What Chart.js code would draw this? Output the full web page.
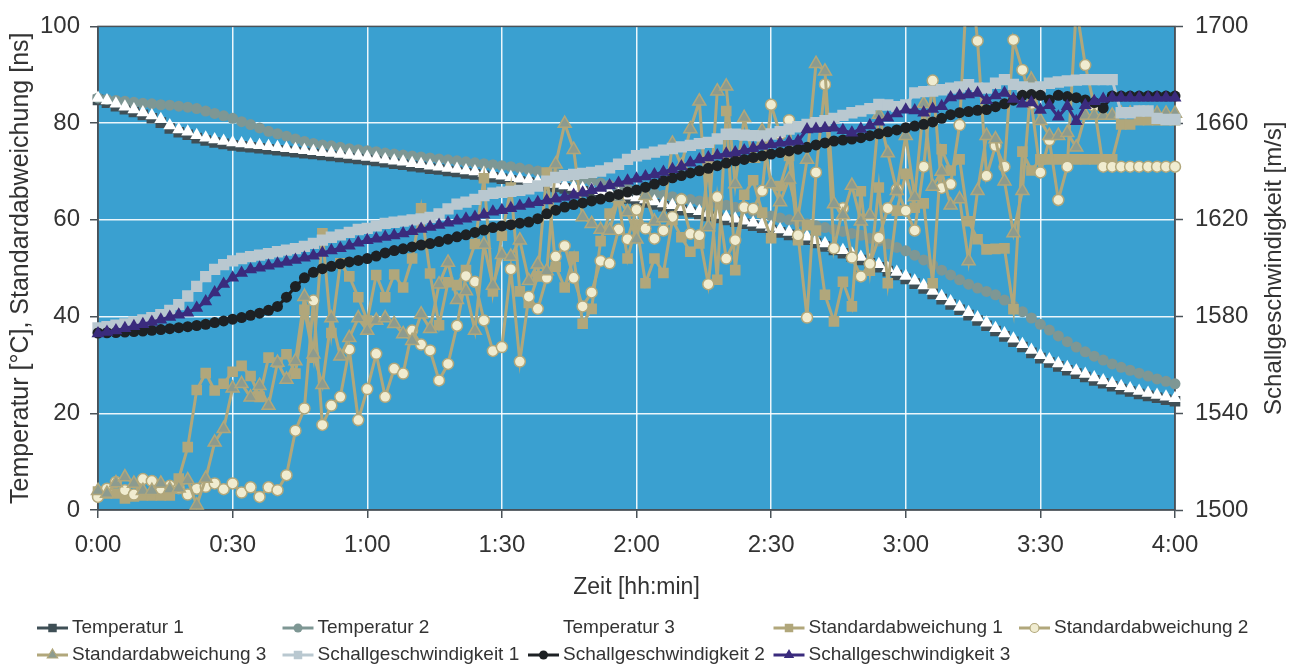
<!DOCTYPE html>
<html>
<head>
<meta charset="utf-8">
<title>Temperatur und Schallgeschwindigkeit</title>
<script src="https://cdn.jsdelivr.net/npm/chart.js@4.4.1/dist/chart.umd.min.js"></script>
<style>
  html, body { margin: 0; padding: 0; background: #fff; }
  #wrap { width: 1298px; height: 666px; }
</style>
</head>
<body>
<div id="wrap"><canvas id="mycanvas" width="1298" height="666"></canvas></div>
<script>
// sample times in minutes (one reading every 2 minutes, 0:00 .. 4:00)
var minutes = [];
for (var m = 0; m <= 240; m += 2) minutes.push(m);

var xTickLabels = ['0:00', '0:30', '1:00', '1:30', '2:00', '2:30', '3:00', '3:30', '4:00'];

// left axis: Temperatur [°C]
var temperatur1 = [
  84.8, 84.2, 83.5, 82.9, 82.3, 81.7, 81.0, 80.1, 78.9, 78.1,
  77.6, 76.9, 76.4, 76.0, 75.7, 75.4, 75.2, 75.0, 74.8, 74.6,
  74.4, 74.2, 74.0, 73.8, 73.6, 73.4, 73.2, 73.0, 72.8, 72.6,
  72.4, 72.2, 71.9, 71.6, 71.4, 71.1, 70.9, 70.6, 70.4, 70.1,
  69.9, 69.6, 69.4, 69.1, 68.8, 68.5, 68.2, 67.9, 67.7, 67.4,
  67.1, 66.8, 66.5, 66.2, 65.9, 65.6, 65.3, 65.0, 64.7, 64.4,
  64.0, 63.6, 63.2, 62.8, 62.4, 62.0, 61.6, 61.2, 60.8, 60.4,
  60.0, 59.6, 59.2, 58.8, 58.4, 57.9, 57.4, 56.9, 56.4, 55.9,
  55.2, 54.5, 53.8, 53.1, 52.4, 51.7, 51.0, 50.2, 49.4, 48.6,
  47.8, 46.8, 45.8, 44.7, 43.6, 42.5, 41.4, 40.3, 39.2, 38.1,
  37.0, 35.9, 34.8, 33.7, 32.5, 31.4, 30.5, 29.7, 28.9, 28.2,
  27.5, 26.8, 26.2, 25.6, 25.0, 24.5, 24.0, 23.6, 23.2, 22.8,
  22.5
];
var temperatur2 = [
  85.2, 84.9, 84.7, 84.5, 84.3, 84.1, 84.0, 83.8, 83.7, 83.5,
  83.3, 83.0, 82.5, 82.0, 81.5, 81.0, 80.3, 79.7, 79.0, 78.3,
  77.8, 77.3, 76.7, 76.2, 75.8, 75.5, 75.3, 75.0, 74.7, 74.5,
  74.3, 74.1, 73.8, 73.6, 73.4, 73.2, 73.0, 72.8, 72.6, 72.4,
  72.2, 72.0, 71.8, 71.6, 71.4, 71.2, 71.0, 70.7, 70.4, 70.1,
  69.8, 69.5, 69.2, 68.8, 68.4, 68.0, 67.6, 67.2, 66.8, 66.4,
  66.0, 65.7, 65.4, 65.1, 64.8, 64.5, 64.2, 63.9, 63.6, 63.3,
  63.0, 62.6, 62.2, 61.7, 61.2, 60.8, 60.4, 60.0, 59.6, 59.2,
  58.8, 58.4, 58.0, 57.6, 57.2, 56.8, 56.2, 55.6, 55.0, 54.3,
  53.6, 52.7, 51.7, 50.7, 49.6, 48.6, 47.6, 46.7, 45.9, 45.2,
  44.5, 43.4, 42.2, 41.0, 39.7, 38.4, 37.2, 36.0, 34.8, 33.7,
  32.7, 31.8, 31.0, 30.2, 29.5, 28.9, 28.3, 27.7, 27.1, 26.6,
  26.1
];
var temperatur3 = [
  85.2, 84.7, 84.0, 83.4, 82.8, 82.2, 81.6, 80.8, 79.5, 78.7,
  78.2, 77.5, 77.0, 76.6, 76.3, 76.0, 75.8, 75.6, 75.4, 75.2,
  75.0, 74.8, 74.6, 74.4, 74.2, 74.0, 73.8, 73.6, 73.4, 73.2,
  73.0, 72.8, 72.5, 72.2, 72.0, 71.7, 71.5, 71.2, 71.0, 70.7,
  70.5, 70.2, 70.0, 69.7, 69.4, 69.1, 68.8, 68.5, 68.3, 68.0,
  67.7, 67.4, 67.1, 66.8, 66.5, 66.2, 65.9, 65.6, 65.3, 65.0,
  64.6, 64.2, 63.8, 63.4, 63.0, 62.6, 62.2, 61.8, 61.4, 61.0,
  60.6, 60.2, 59.8, 59.4, 59.0, 58.5, 58.0, 57.5, 57.0, 56.5,
  55.8, 55.1, 54.4, 53.7, 53.0, 52.3, 51.6, 50.8, 50.0, 49.2,
  48.4, 47.4, 46.4, 45.3, 44.2, 43.1, 42.0, 40.9, 39.8, 38.7,
  37.6, 36.5, 35.4, 34.3, 33.1, 32.0, 31.1, 30.3, 29.5, 28.8,
  28.1, 27.4, 26.8, 26.2, 25.6, 25.1, 24.6, 24.2, 23.8, 23.4,
  23.1
];

// left axis: Standardabweichung [ns]
var standardabweichung1 = [
  3.8, 3.4, 3.4, 2.4, 2.8, 3.0, 3.0, 3.0, 3.0, 6.5,
  13.0, 24.8, 28.3, 24.7, 26.1, 28.6, 29.8, 27.7, 23.4, 31.5,
  30.5, 32.2, 28.2, 41.4, 31.5, 57.2, 36.6, 51.0, 48.3, 44.0,
  39.2, 48.6, 44.0, 48.7, 46.0, 52.0, 62.4, 48.9, 38.2, 47.1,
  46.5, 49.6, 55.0, 68.6, 45.2, 56.7, 66.7, 45.2, 42.8, 48.3,
  69.8, 50.3, 46.0, 52.4, 38.5, 41.6, 55.6, 61.3, 64.0, 52.0,
  59.0, 46.9, 52.0, 49.0, 60.0, 56.4, 53.4, 55.1, 71.2, 47.6,
  82.5, 49.6, 65.2, 68.2, 61.5, 56.2, 67.0, 73.2, 55.8, 58.9,
  57.8, 44.5, 39.0, 47.2, 42.1, 65.9, 49.5, 66.7, 46.9, 61.9,
  69.5, 62.5, 63.4, 46.9, 74.6, 70.2, 72.5, 59.7, 56.0, 53.9,
  54.0, 54.1, 41.5, 74.1, 70.2, 72.5, 72.5, 72.5, 72.5, 72.5,
  72.5, 72.5, 72.5, 72.5, 79.7, 79.7, 80.6, 80.6, 80.6, 80.6,
  80.6
];
var standardabweichung2 = [
  2.7, 4.4, 5.8, 4.1, 3.2, 6.4, 6.0, 4.4, 5.0, 4.5,
  3.2, 4.4, 4.8, 5.5, 4.3, 5.5, 3.6, 4.7, 2.7, 4.7,
  4.1, 7.2, 16.4, 21.0, 43.3, 17.6, 21.6, 23.4, 33.2, 18.6,
  25.0, 32.3, 23.4, 29.2, 28.2, 37.1, 34.2, 33.0, 26.8, 30.2,
  38.1, 48.4, 47.2, 39.2, 32.9, 33.7, 49.8, 30.7, 44.1, 41.6,
  48.0, 52.4, 54.6, 48.0, 42.1, 45.0, 51.5, 51.0, 58.0, 56.0,
  62.1, 58.2, 56.1, 57.8, 60.6, 64.2, 57.1, 56.8, 46.7, 64.7,
  52.0, 55.8, 62.6, 62.3, 66.0, 83.8, 77.7, 80.6, 56.8, 39.8,
  69.8, 88.0, 54.1, 62.4, 52.2, 48.3, 50.9, 56.3, 62.4, 66.3,
  61.9, 57.8, 71.0, 88.8, 66.6, 67.4, 79.6, 115.0, 97.0, 69.1,
  75.3, 71.0, 97.2, 91.0, 84.0, 69.8, 76.5, 64.1, 71.0, 104.0,
  92.0, 83.5, 71.0, 71.0, 71.0, 71.0, 71.0, 71.0, 71.0, 71.0,
  71.0
];
var standardabweichung3 = [
  4.0, 3.4, 5.6, 6.8, 5.5, 4.0, 4.0, 5.5, 4.3, 4.5,
  6.2, 1.0, 6.5, 14.0, 16.8, 25.2, 26.1, 23.3, 25.7, 21.6,
  30.5, 27.0, 30.8, 44.1, 32.2, 25.9, 39.7, 31.8, 35.6, 39.7,
  37.1, 39.2, 39.7, 38.5, 36.4, 35.0, 40.5, 37.5, 46.7, 51.2,
  43.5, 45.3, 37.1, 54.9, 46.4, 52.8, 52.4, 55.8, 47.4, 50.8,
  49.4, 71.5, 79.9, 74.5, 60.6, 59.2, 58.0, 57.8, 64.5, 61.6,
  56.0, 65.0, 59.7, 60.4, 75.8, 71.2, 78.8, 84.5, 58.5, 86.6,
  87.6, 67.4, 81.1, 72.7, 78.4, 67.4, 63.7, 68.4, 60.6, 72.5,
  92.3, 90.7, 63.3, 61.0, 67.1, 59.7, 61.0, 81.8, 73.8, 66.0,
  77.4, 64.7, 84.0, 66.9, 70.0, 63.0, 64.3, 51.5, 66.0, 77.4,
  76.7, 68.0, 57.3, 66.0, 89.0, 80.5, 77.4, 77.4, 78.0, 75.0,
  81.6, 81.6, 81.6, 81.6, 82.0, 82.0, 82.0, 82.0, 82.0, 82.0,
  82.0
];

// right axis: Schallgeschwindigkeit [m/s]
var schall1 = [
  1575.3, 1575.8, 1576.4, 1577.0, 1577.8, 1578.6, 1579.5, 1580.8, 1582.5, 1584.9,
  1588.5, 1592.5, 1596.5, 1599.5, 1601.5, 1603.0, 1604.0, 1604.8, 1605.4, 1606.0,
  1606.8, 1607.5, 1608.1, 1609.0, 1610.3, 1611.6, 1612.8, 1613.8, 1614.8, 1616.0,
  1616.5, 1617.5, 1618.5, 1619.0, 1619.5, 1620.0, 1620.4, 1621.0, 1622.5, 1624.5,
  1626.5, 1627.3, 1628.5, 1630.0, 1631.0, 1631.4, 1631.8, 1632.2, 1632.8, 1634.0,
  1636.0, 1637.5, 1638.3, 1638.8, 1639.2, 1639.6, 1640.2, 1641.5, 1643.0, 1645.0,
  1646.5, 1647.2, 1648.0, 1648.8, 1649.5, 1650.2, 1650.8, 1651.5, 1652.0, 1653.5,
  1655.4, 1655.4, 1655.0, 1654.8, 1654.7, 1655.5, 1656.5, 1657.5, 1658.5, 1659.5,
  1660.2, 1661.0, 1662.0, 1663.2, 1664.3, 1665.0, 1666.0, 1667.7, 1667.5, 1666.8,
  1667.5, 1672.5, 1673.0, 1673.2, 1673.8, 1674.5, 1675.0, 1675.9, 1674.5, 1674.5,
  1676.5, 1678.0, 1676.0, 1675.0, 1674.5, 1675.0, 1676.5, 1677.0, 1677.5, 1677.8,
  1678.0, 1678.0, 1678.0, 1678.0, 1664.3, 1664.3, 1665.0, 1665.0, 1662.0, 1661.5,
  1661.5
];
var schall2 = [
  1573.2, 1573.3, 1573.4, 1573.6, 1573.8, 1574.0, 1574.3, 1574.6, 1575.0, 1575.4,
  1575.8, 1576.3, 1576.8, 1577.5, 1578.2, 1578.9, 1579.6, 1580.5, 1581.4, 1582.6,
  1584.2, 1588.0, 1592.4, 1596.0, 1598.3, 1599.8, 1600.8, 1601.8, 1602.6, 1603.2,
  1604.0, 1605.0, 1606.3, 1607.3, 1608.0, 1608.8, 1609.6, 1610.2, 1611.0, 1612.0,
  1613.0, 1613.8, 1614.8, 1615.8, 1616.8, 1617.5, 1618.0, 1618.6, 1619.1, 1620.5,
  1622.5, 1624.0, 1625.3, 1626.3, 1627.0, 1627.8, 1628.6, 1629.5, 1630.5, 1631.5,
  1632.3, 1633.5, 1634.8, 1636.2, 1637.4, 1638.3, 1639.4, 1640.3, 1641.3, 1642.4,
  1643.5, 1644.4, 1645.0, 1645.8, 1646.5, 1647.2, 1647.8, 1648.5, 1649.2, 1650.0,
  1651.0, 1651.8, 1652.6, 1653.0, 1653.4, 1654.0, 1654.8, 1655.6, 1656.4, 1657.2,
  1658.1, 1658.8, 1659.5, 1660.5, 1662.0, 1663.5, 1664.3, 1664.8, 1665.3, 1665.6,
  1666.8, 1668.0, 1669.5, 1671.5, 1671.8, 1671.5, 1669.6, 1671.5, 1671.0, 1670.5,
  1669.6, 1668.5, 1666.3, 1671.2, 1671.2, 1671.2, 1671.2, 1671.2, 1671.2, 1671.2,
  1671.2
];
var schall3 = [
  1573.0, 1573.6, 1574.2, 1575.2, 1576.0, 1576.8, 1577.8, 1578.7, 1579.8, 1580.8,
  1581.6, 1583.5, 1586.2, 1590.0, 1593.5, 1596.0, 1598.0, 1599.5, 1600.2, 1601.0,
  1601.8, 1602.6, 1603.4, 1604.3, 1605.2, 1606.3, 1607.3, 1608.3, 1609.3, 1610.5,
  1611.6, 1612.2, 1612.9, 1613.5, 1614.4, 1615.3, 1616.2, 1617.0, 1617.9, 1618.8,
  1619.6, 1620.4, 1621.2, 1622.1, 1623.3, 1624.0, 1624.8, 1625.7, 1626.6, 1627.3,
  1628.0, 1628.7, 1629.4, 1630.3, 1631.2, 1632.2, 1633.2, 1634.2, 1635.2, 1636.2,
  1637.0, 1637.9, 1638.8, 1639.8, 1640.9, 1642.1, 1643.6, 1645.0, 1645.8, 1646.6,
  1647.3, 1647.9, 1648.7, 1649.6, 1650.5, 1651.2, 1651.8, 1652.2, 1652.6, 1657.4,
  1657.6, 1657.9, 1658.1, 1657.0, 1656.0, 1657.6, 1659.0, 1660.6, 1662.2, 1664.0,
  1665.5, 1665.2, 1664.3, 1665.8, 1667.0, 1670.6, 1671.3, 1671.8, 1672.5, 1669.5,
  1671.4, 1672.5, 1670.0, 1668.0, 1668.5, 1665.4, 1667.4, 1662.6, 1667.0, 1660.8,
  1667.4, 1669.0, 1670.0, 1670.5, 1670.5, 1670.5, 1670.5, 1670.5, 1670.5, 1670.5,
  1670.5
];

var FONT = "'Liberation Sans', Arial, sans-serif";
var TEXT = '#333333';
var FRAME = '#4a5258';
var TAN = '#b1a77b';
var rightTitle = 'Schallgeschwindigkeit [m/s]';

// legend grid: rows of dataset indices
var legendRows = [[0, 1, 2, 3, 4], [5, 6, 7, 8]];

function markerPath(ctx, style, x, y, r) {
  ctx.beginPath();
  if (style === 'rect') {
    var s = r * Math.SQRT1_2;
    ctx.rect(x - s, y - s, 2 * s, 2 * s);
  } else if (style === 'triangle') {
    ctx.moveTo(x, y - r);
    ctx.lineTo(x + r * 0.866, y + r * 0.5);
    ctx.lineTo(x - r * 0.866, y + r * 0.5);
    ctx.closePath();
  } else {
    ctx.arc(x, y, r, 0, Math.PI * 2);
  }
}

var plotBackground = {
  id: 'plotBackground',
  beforeDraw: function(chart) {
    var a = chart.chartArea, ctx = chart.ctx;
    ctx.save();
    ctx.fillStyle = '#3aa0d0';
    ctx.fillRect(a.left, a.top, a.right - a.left, a.bottom - a.top);
    ctx.restore();
  },
  beforeDatasetsDraw: function(chart) {
    var a = chart.chartArea, ctx = chart.ctx;
    ctx.save();
    ctx.strokeStyle = FRAME;
    ctx.lineWidth = 1.5;
    ctx.strokeRect(a.left, a.top, a.right - a.left, a.bottom - a.top);
    ctx.restore();
  },
  afterDraw: function(chart) {
    // right axis title reads bottom-to-top, like the left one
    var a = chart.chartArea, ctx = chart.ctx;
    ctx.save();
    ctx.translate(1274, (a.top + a.bottom) / 2);
    ctx.rotate(-Math.PI / 2);
    ctx.font = '24px ' + FONT;
    ctx.fillStyle = TEXT;
    ctx.textAlign = 'center';
    ctx.textBaseline = 'middle';
    ctx.fillText(rightTitle, 0, 0);
    ctx.restore();
  }
};

var gridLegend = {
  id: 'gridLegend',
  afterDraw: function(chart) {
    var ctx = chart.ctx;
    var ds = chart.data.datasets;
    ctx.save();
    ctx.font = '19px ' + FONT;
    ctx.textBaseline = 'middle';
    ctx.textAlign = 'left';
    legendRows.forEach(function(row, r) {
      var y = 628 + r * 27;
      row.forEach(function(idx, c) {
        var d = ds[idx];
        var lx = 37 + c * 245.5;
        if (d.showLine !== false) {
          ctx.strokeStyle = d.borderColor;
          ctx.lineWidth = 3;
          ctx.beginPath();
          ctx.moveTo(lx, y);
          ctx.lineTo(lx + 31, y);
          ctx.stroke();
        }
        markerPath(ctx, d.pointStyle, lx + 15.5, y, d.pointStyle === 'circle' ? 4.5 : 6);
        ctx.fillStyle = d.pointBackgroundColor;
        ctx.fill();
        if (d.pointBorderWidth) {
          ctx.lineWidth = 1.2;
          ctx.strokeStyle = d.pointBorderColor;
          ctx.stroke();
        }
        ctx.fillStyle = TEXT;
        ctx.fillText(d.label, lx + 35, y);
      });
    });
    ctx.restore();
  }
};

function edgeless(color) {
  return function(c) {
    var s = c.scale;
    if (c.tick && (c.tick.value === s.min || c.tick.value === s.max)) return 'rgba(0,0,0,0)';
    return color;
  };
}

var clipBox = { left: 10, right: 10, top: 0, bottom: 10 };

var ctx = document.getElementById('mycanvas');

var chart = new Chart(ctx, {
  type: 'line',
  data: {
    labels: minutes,
    datasets: [
      {
        label: 'Temperatur 1', data: temperatur1, yAxisID: 'y', order: 9,
        borderColor: '#3f4f56', pointBackgroundColor: '#3f4f56', pointBorderWidth: 0,
        borderWidth: 3, pointStyle: 'rect', pointRadius: 7.5, clip: clipBox
      },
      {
        label: 'Temperatur 2', data: temperatur2, yAxisID: 'y', order: 8,
        borderColor: '#7e9794', pointBackgroundColor: '#7e9794', pointBorderWidth: 0,
        borderWidth: 3, pointStyle: 'circle', pointRadius: 5.5, clip: clipBox
      },
      {
        label: 'Temperatur 3', data: temperatur3, yAxisID: 'y', order: 7,
        borderColor: '#ffffff', pointBackgroundColor: '#ffffff', pointBorderWidth: 0,
        showLine: false, pointStyle: 'triangle', pointRadius: 7.5, clip: clipBox
      },
      {
        label: 'Standardabweichung 1', data: standardabweichung1, yAxisID: 'y', order: 6,
        borderColor: TAN, pointBackgroundColor: TAN, pointBorderWidth: 0,
        borderWidth: 3, pointStyle: 'rect', pointRadius: 7.5, clip: clipBox
      },
      {
        label: 'Standardabweichung 2', data: standardabweichung2, yAxisID: 'y', order: 5,
        borderColor: TAN, pointBackgroundColor: '#f0ecd0', pointBorderColor: TAN, pointBorderWidth: 1.5,
        borderWidth: 3, pointStyle: 'circle', pointRadius: 5.5, clip: clipBox
      },
      {
        label: 'Standardabweichung 3', data: standardabweichung3, yAxisID: 'y', order: 4,
        borderColor: TAN, pointBackgroundColor: '#8c9b8f', pointBorderColor: TAN, pointBorderWidth: 1.5,
        borderWidth: 3, pointStyle: 'triangle', pointRadius: 7.5, clip: clipBox
      },
      {
        label: 'Schallgeschwindigkeit 1', data: schall1, yAxisID: 'y1', order: 3,
        borderColor: '#b9c8d0', pointBackgroundColor: '#b9c8d0', pointBorderWidth: 0,
        borderWidth: 3, pointStyle: 'rect', pointRadius: 8, clip: clipBox
      },
      {
        label: 'Schallgeschwindigkeit 2', data: schall2, yAxisID: 'y1', order: 2,
        borderColor: '#1d2124', pointBackgroundColor: '#1d2124', pointBorderWidth: 0,
        borderWidth: 3, pointStyle: 'circle', pointRadius: 5.5, clip: clipBox
      },
      {
        label: 'Schallgeschwindigkeit 3', data: schall3, yAxisID: 'y1', order: 1,
        borderColor: '#3a2b7d', pointBackgroundColor: '#3a2b7d', pointBorderWidth: 0,
        borderWidth: 3, pointStyle: 'triangle', pointRadius: 7.5, clip: clipBox
      }
    ]
  },
  options: {
    responsive: false,
    animation: false,
    events: [],
    elements: { line: { tension: 0 } },
    layout: { padding: { top: 23, bottom: 56, left: 0, right: 0 } },
    plugins: {
      legend: { display: false },
      tooltip: { enabled: false }
    },
    scales: {
      x: {
        type: 'linear', min: 0, max: 240,
        afterFit: function(s) { s.height = 100; },
        grid: { color: edgeless('rgba(255,255,255,0.9)'), lineWidth: 1.5, tickColor: FRAME, tickLength: 8, tickWidth: 1.5 },
        border: { color: FRAME, width: 1.5 },
        ticks: {
          stepSize: 30, autoSkip: false, maxRotation: 0, padding: 13,
          color: TEXT, font: { family: FONT, size: 24 },
          callback: function(v) { return xTickLabels[v / 30]; }
        },
        title: { display: true, text: 'Zeit [hh:min]', color: TEXT, font: { family: FONT, size: 23 }, padding: { top: 0, bottom: 9 } }
      },
      y: {
        position: 'left', min: 0, max: 100,
        afterFit: function(s) { s.width = 98; },
        grid: { color: edgeless('rgba(255,255,255,0.9)'), lineWidth: 1.5, tickColor: FRAME, tickLength: 8, tickWidth: 1.5 },
        border: { color: FRAME, width: 1.5 },
        ticks: { stepSize: 20, padding: 10, color: TEXT, font: { family: FONT, size: 24 } },
        title: { display: true, text: 'Temperatur [°C], Standardabweichung [ns]', color: TEXT, font: { family: FONT, size: 25 }, padding: { top: 6, bottom: 0 } }
      },
      y1: {
        position: 'right', min: 1500, max: 1700,
        afterFit: function(s) { s.width = 123; },
        grid: { drawOnChartArea: false, tickColor: FRAME, tickLength: 8, tickWidth: 1.5 },
        border: { color: FRAME, width: 1.5 },
        ticks: {
          stepSize: 40, padding: 12, color: TEXT, font: { family: FONT, size: 24 },
          callback: function(v) { return String(v); }
        },
        title: { display: false }
      }
    }
  },
  plugins: [plotBackground, gridLegend]
});
</script>
</body>
</html>
